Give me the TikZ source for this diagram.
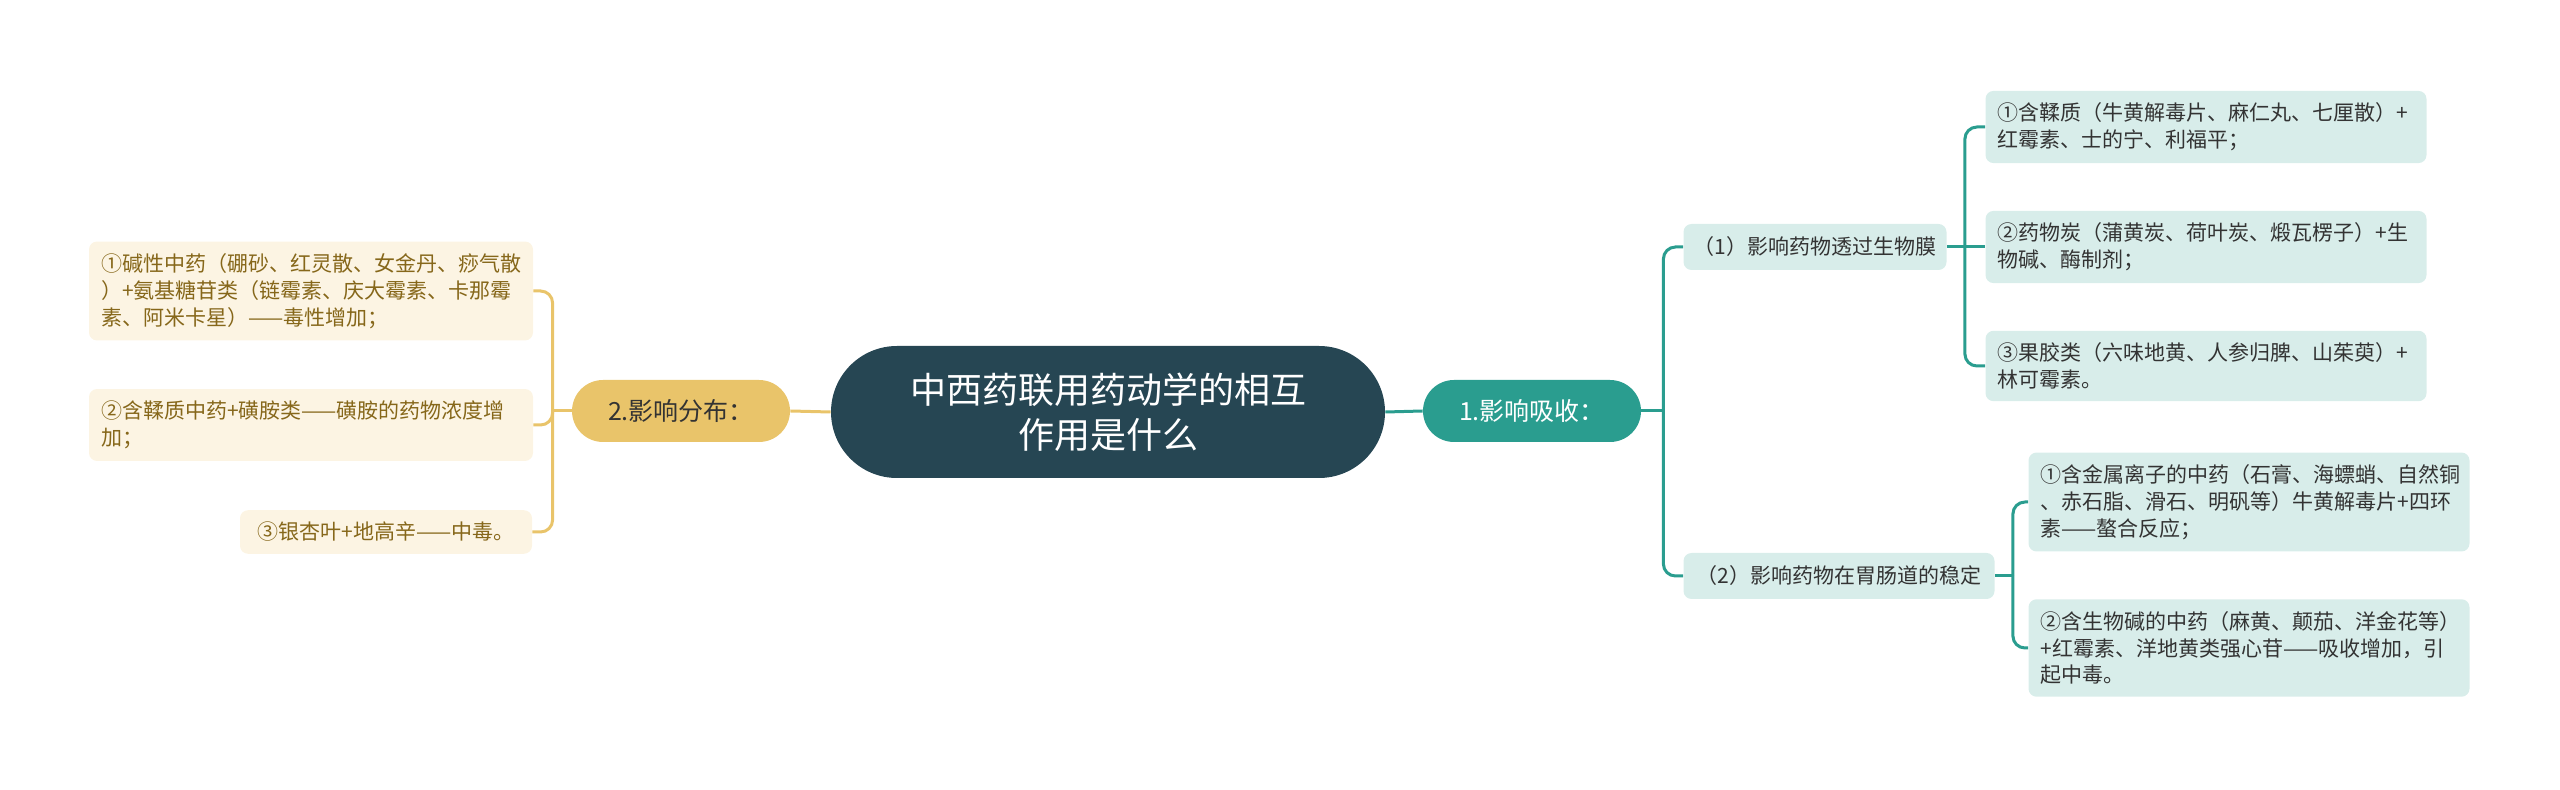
\documentclass[tikz,border=0pt]{standalone}
\usepackage{fontspec}
\setmainfont{Noto Sans CJK SC}
\definecolor{rootfill}{HTML}{264653}
\definecolor{tealfill}{HTML}{2A9D8F}
\definecolor{goldfill}{HTML}{E9C46A}
\definecolor{paleteal}{HTML}{D8EDEA}
\definecolor{palecream}{HTML}{FCF4E3}
\definecolor{darkbrown}{HTML}{86671A}
\definecolor{textgray}{HTML}{333333}

\begin{document}
\begin{tikzpicture}[x=0.5pt,y=-0.5pt,
        rootbox/.style={fill=rootfill,text=white,rounded corners=33pt,minimum width=277pt,minimum height=66pt,align=center,font=\fontsize{18}{22.5}\selectfont},
        mainbox/.style={rounded corners=15.5pt,minimum width=109pt,minimum height=31pt,font=\fontsize{12.5}{15}\selectfont},
        subbox/.style={fill=paleteal,text=textgray,rounded corners=4pt,minimum height=23pt,font=\fontsize{10.5}{13.4}\selectfont},
        leafbox/.style={fill=paleteal,text=textgray,rounded corners=4pt,text width=208.5pt,align=left,inner xsep=6pt,inner ysep=6pt,font=\fontsize{10.5}{13.4}\selectfont},
        warmleaf/.style={fill=palecream,text=darkbrown,rounded corners=4pt,align=left,inner xsep=6pt,inner ysep=6pt,font=\fontsize{10.5}{13.4}\selectfont},
        tealline/.style={draw=tealfill,line width=1.5pt,rounded corners=6pt},
        goldline/.style={draw=goldfill,line width=1.5pt,rounded corners=6pt}]
            \useasboundingbox (0,0) rectangle (2560,790);
            \node[rootbox] (root) at (1108,412) {中西药联用药动学的相互\\作用是什么};
            \node[mainbox,fill=tealfill,text=white] (absorb) at (1532,411) {1.影响吸收：};
            \node[mainbox,fill=goldfill,text=textgray] (distrib) at (681,411) {2.影响分布：};
            \node[subbox,minimum width=131.5pt] (membrane) at (1815,247) {（1）影响药物透过生物膜};
            \node[subbox,minimum width=155.5pt] (gut) at (1839,576) {（2）影响药物在胃肠道的稳定};
            \node[leafbox] (tannin) at (2206,127) {①含鞣质（牛黄解毒片、麻仁丸、七厘散）+\\红霉素、士的宁、利福平；};
            \node[leafbox] (charcoal) at (2206,247) {②药物炭（蒲黄炭、荷叶炭、煅瓦楞子）+生\\物碱、酶制剂；};
            \node[leafbox] (pectin) at (2206,366) {③果胶类（六味地黄、人参归脾、山茱萸）+\\林可霉素。};
            \node[leafbox] (metal) at (2249,502) {①含金属离子的中药（石膏、海螵蛸、自然铜\\、赤石脂、滑石、明矾等）牛黄解毒片+四环\\素——螯合反应；};
            \node[leafbox] (alkaloid) at (2249,648) {②含生物碱的中药（麻黄、颠茄、洋金花等）\\+红霉素、洋地黄类强心苷——吸收增加，引\\起中毒。};
            \node[warmleaf,text width=210pt] (alkali) at (311,291) {①碱性中药（硼砂、红灵散、女金丹、痧气散\\）+氨基糖苷类（链霉素、庆大霉素、卡那霉\\素、阿米卡星）——毒性增加；};
            \node[warmleaf,text width=210pt] (sulfa) at (311,425) {②含鞣质中药+磺胺类——磺胺的药物浓度增\\加；};
            \node[warmleaf,minimum width=146pt] (ginkgo) at (386,532) {③银杏叶+地高辛——中毒。};
            \draw[tealline] (root.east) -- (absorb.west);
            \draw[goldline] (root.west) -- (distrib.east);
            \draw[tealline] (absorb.east) -- ++(22,0) coordinate (absorbj);
            \draw[tealline] (absorbj) |- (membrane.west);
            \draw[tealline] (absorbj) |- (gut.west);
            \draw[tealline] (membrane.east) -- ++(18,0) coordinate (membranej);
            \draw[tealline] (membranej) |- (tannin.west);
            \draw[tealline] (membranej) -- (charcoal.west);
            \draw[tealline] (membranej) |- (pectin.west);
            \draw[tealline] (gut.east) -- ++(18,0) coordinate (gutj);
            \draw[tealline] (gutj) |- (metal.west);
            \draw[tealline] (gutj) |- (alkaloid.west);
            \draw[goldline] (distrib.west) -- ++(-19,0) coordinate (distribj);
            \draw[goldline] (distribj) |- (alkali.east);
            \draw[goldline] (distribj) |- (sulfa.east);
            \draw[goldline] (distribj) |- (ginkgo.east);
        \end{tikzpicture}
\end{document}
